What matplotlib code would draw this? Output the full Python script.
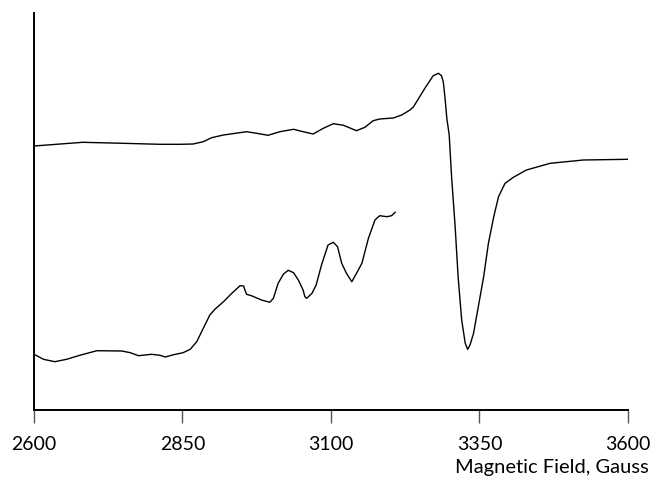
import matplotlib
matplotlib.use("Agg")
import matplotlib.pyplot as plt

# Upper trace (full spectrum)
field_top = [2600, 2682, 2750, 2812, 2846, 2868, 2885, 2899, 2919, 2958, 2975, 2994,
             3014, 3037, 3053, 3070, 3087, 3104, 3121, 3143, 3157, 3171, 3182, 3205,
             3219, 3233, 3239, 3258, 3272, 3281, 3286, 3289, 3292, 3295, 3299, 3303,
             3309, 3314, 3320, 3326, 3330, 3334, 3340, 3348, 3357, 3365, 3374, 3382,
             3393, 3407, 3429, 3469, 3525, 3600]
signal_top = [264, 267.7, 266.7, 265.7, 265.7, 266, 268.3, 272.3, 275, 278.3, 276.7, 274.7,
              278.3, 280.7, 278.3, 276, 281.7, 286.3, 284.7, 279.3, 282.7, 289.3, 291, 292,
              295, 300, 303.3, 321.7, 334.3, 336.7, 334.3, 328.3, 311.7, 291.7, 275, 233.3,
              183.3, 133.3, 90, 66.7, 60.7, 65, 76.7, 103.3, 133.3, 166.7, 193.3, 213.3,
              226.7, 232.7, 240, 246.7, 250, 250.7]

# Lower trace (expanded low-field region)
field_low = [2600, 2616, 2635, 2655, 2677, 2706, 2748, 2762, 2776, 2798, 2812, 2821,
             2835, 2851, 2863, 2874, 2885, 2896, 2905, 2919, 2933, 2947, 2953, 2955,
             2958, 2966, 2983, 2997, 3003, 3011, 3020, 3028, 3037, 3045, 3053, 3056,
             3059, 3068, 3075, 3084, 3095, 3104, 3111, 3118, 3126, 3135, 3143, 3152,
             3163, 3174, 3182, 3194, 3202, 3208]
signal_low = [55.7, 50.7, 48.3, 50.7, 54.7, 59.3, 59, 57.3, 54.3, 55.7, 54.7, 53,
              55.3, 57.3, 60.7, 68.3, 81.7, 95, 101, 108.3, 116.7, 124.3, 124, 120,
              115.7, 114.3, 110, 107.7, 111.7, 126.7, 136, 139.7, 137.3, 130, 120, 113.3,
              111.7, 116.7, 125, 145, 165, 167.7, 163.3, 146.7, 136.7, 128.3, 136.7, 146.7,
              171.7, 190, 194.3, 193.3, 194.3, 197.7]

xticks = [2600, 2850, 3100, 3350, 3600]

fig = plt.figure(figsize=(6.5, 4.78), dpi=100)
ax = fig.add_axes([34/650, (478-410)/478, (628-34)/650, (410-13)/478])
ax.plot(field_top, signal_top, color="black", lw=1.0, solid_joinstyle="round")
ax.plot(field_low, signal_low, color="black", lw=1.0, solid_joinstyle="round")
ax.set_xlim(2600, 3600)
ax.set_ylim(0, 397)
ax.set_xticks(xticks)
ax.set_xticklabels([str(t) for t in xticks], fontsize=14, family="Lato")
ax.set_yticks([])
ax.spines["top"].set_visible(False)
ax.spines["right"].set_visible(False)
ax.spines["left"].set_linewidth(1.4)
ax.spines["bottom"].set_linewidth(1.4)
ax.tick_params(axis="x", direction="out", length=9, width=1, color="#555555", pad=10)
fig.text(649/650, 1 - 467/478, "Magnetic Field, Gauss", ha="right", va="center",
         fontsize=14.5, family="Lato")
fig.savefig("out.png", dpi=100)
